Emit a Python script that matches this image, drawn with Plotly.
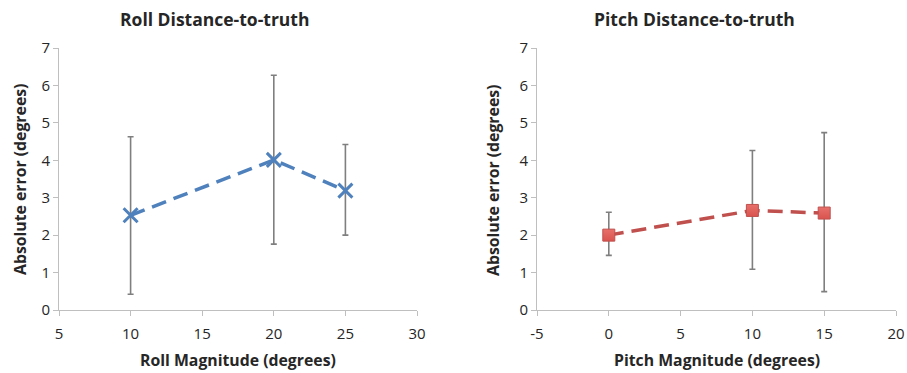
import plotly.graph_objects as go

# Roll data
roll_x = [10, 20, 25]
roll_y = [2.53, 4.01, 3.19]
roll_err_hi = [4.63, 6.27, 4.42]
roll_err_lo = [0.42, 1.76, 2.00]

# Pitch data
pitch_x = [0, 10, 15]
pitch_y = [2.00, 2.66, 2.59]
pitch_err_hi = [2.61, 4.26, 4.74]
pitch_err_lo = [1.46, 1.09, 0.49]

# Tick labels
roll_xticks = [5, 10, 15, 20, 25, 30]
pitch_xticks = [-5, 0, 5, 10, 15, 20]
pitch_xticktext = ["-5", "0", "5", "10", "15", "20"]
yticks = [0, 1, 2, 3, 4, 5, 6, 7]

roll_title = "Roll Distance-to-truth"
pitch_title = "Pitch Distance-to-truth"
roll_xlabel = "Roll Magnitude (degrees)"
pitch_xlabel = "Pitch Magnitude (degrees)"
ylabel = "Absolute error (degrees)"

FONT = "Open Sans"
AXC = "#bfbfbf"
TXT = "#262626"

fig = go.Figure()

fig.add_trace(go.Scatter(
    x=roll_x, y=roll_y, mode="lines+markers",
    line=dict(color="#4f81bd", width=3.5, dash="15px,8px"),
    marker=dict(symbol="x-thin", size=14, line=dict(color="#4f81bd", width=3)),
    error_y=dict(type="data", symmetric=False,
                 array=[h - v for h, v in zip(roll_err_hi, roll_y)],
                 arrayminus=[v - l for l, v in zip(roll_err_lo, roll_y)],
                 color="#7f7f7f", thickness=1.6, width=3),
    xaxis="x", yaxis="y", showlegend=False))

fig.add_trace(go.Scatter(
    x=pitch_x, y=pitch_y, mode="lines+markers",
    line=dict(color="#c0504d", width=3.5, dash="15px,8px"),
    marker=dict(symbol="square", size=12, color="#e8706b",
                line=dict(color="#c0504d", width=1),
                gradient=dict(type="vertical", color="#d9534f")),
    error_y=dict(type="data", symmetric=False,
                 array=[h - v for h, v in zip(pitch_err_hi, pitch_y)],
                 arrayminus=[v - l for l, v in zip(pitch_err_lo, pitch_y)],
                 color="#7f7f7f", thickness=1.6, width=3),
    xaxis="x2", yaxis="y2", showlegend=False))

x1dom = [59 / 907, 417 / 907]
x2dom = [537 / 907, 896 / 907]
ydom = [1 - 310 / 373, 1 - 48 / 373]

axis_common = dict(showgrid=False, zeroline=False, showline=True, linecolor=AXC,
                   linewidth=1, ticks="outside", ticklen=5, tickcolor=AXC,
                   automargin=False,
                   tickfont=dict(family=FONT, size=15, color=TXT))

fig.update_layout(
    width=907, height=373,
    margin=dict(l=0, r=0, t=0, b=0, pad=0, autoexpand=False),
    plot_bgcolor="white", paper_bgcolor="white",
    xaxis=dict(domain=x1dom, range=[5, 30], tickvals=roll_xticks, anchor="y",
               ticklabelstandoff=5, **axis_common),
    yaxis=dict(domain=ydom, range=[0, 7], tickvals=yticks, anchor="x", **axis_common),
    xaxis2=dict(domain=x2dom, range=[-5, 20], tickvals=pitch_xticks, ticktext=pitch_xticktext,
                anchor="y2", ticklabelstandoff=5, **axis_common),
    yaxis2=dict(domain=ydom, range=[0, 7], tickvals=yticks, anchor="x2", **axis_common),
)

ann = []
def A(text, x, y, size, rot=0):
    ann.append(dict(text="<b>%s</b>" % text, x=x / 907, y=1 - y / 373, xref="paper", yref="paper",
                    showarrow=False, textangle=rot, xanchor="center", yanchor="middle",
                    font=dict(family=FONT, size=size, color=TXT)))

A(roll_title, 214, 19, 17.5)
A(pitch_title, 694, 19, 17.5)
A(roll_xlabel, 238, 360, 15.8)
A(pitch_xlabel, 717, 360, 15.8)
A(ylabel, 20, 180, 15.8, -90)
A(ylabel, 493, 180, 15.8, -90)
fig.update_layout(annotations=ann)

fig.write_html("out.html", config={"displayModeBar": False},
               post_script="document.body.style.margin='0px';document.body.style.overflow='hidden';")
